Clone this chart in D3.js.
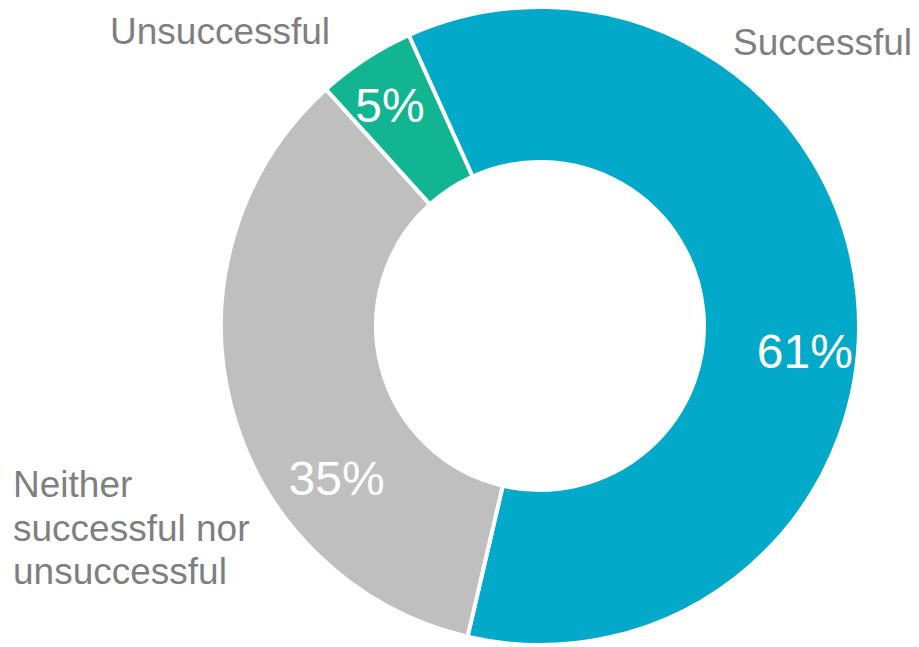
<!DOCTYPE html>
<html>
<head>
<meta charset="utf-8">
<script src="https://cdn.jsdelivr.net/npm/d3@7"></script>
<style>
  html, body { margin: 0; padding: 0; background: #fff; }
  svg { display: block; font-family: "Liberation Sans", Arial, sans-serif; }
</style>
</head>
<body>
<svg id="chart" width="919" height="647"></svg>
<script>
// Survey outcome shares (percent)
const categories = ["Successful", "Neither successful nor unsuccessful", "Unsuccessful"];
const values = [61, 35, 5];
const colors = ["#02A9C8", "#BFBFBF", "#12B591"];

// Category name lines, drawn outside the ring
const nameLines = [["Successful"], ["Neither", "successful nor", "unsuccessful"], ["Unsuccessful"]];

// Layout
const width = 919, height = 647;
const cx = 540, cy = 326;
const outerR = 319, innerR = 164;
const startDeg = -24.3;
// where each value label sits: angle (deg, clockwise from 12 o'clock) and radius
const valueLabelSpots = [{ a: 95.4, r: 266 }, { a: 233.2, r: 254 }, { a: 325.8, r: 267 }];
// category name placement
const nameSpots = [
  { x: 912, y: 55, anchor: "end" },
  { x: 13, y: 497, anchor: "start" },
  { x: 110, y: 44, anchor: "start" }
];
const nameLineGap = 43.5;

const rad = d => d * Math.PI / 180;
const svg = d3.select("#chart");
const g = svg.append("g").attr("transform", `translate(${cx},${cy})`);

const slices = categories.map((c, i) => ({ name: c, value: values[i], color: colors[i], i }));

const pie = d3.pie()
  .value(d => d.value)
  .sort(null)
  .startAngle(rad(startDeg))
  .endAngle(rad(startDeg) + 2 * Math.PI);

const arc = d3.arc().innerRadius(innerR).outerRadius(outerR);

const arcs = pie(slices);

g.selectAll("path.slice")
  .data(arcs)
  .join("path")
  .attr("class", "slice")
  .attr("d", arc)
  .attr("fill", d => d.data.color)
  .attr("stroke", "#fff")
  .attr("stroke-width", 4)
  .attr("stroke-linejoin", "miter");

// Value labels inside the ring
g.selectAll("text.value")
  .data(arcs)
  .join("text")
  .attr("class", "value")
  .attr("x", d => valueLabelSpots[d.index].r * Math.sin(rad(valueLabelSpots[d.index].a)))
  .attr("y", d => -valueLabelSpots[d.index].r * Math.cos(rad(valueLabelSpots[d.index].a)))
  .attr("dy", "0.355em")
  .attr("text-anchor", "middle")
  .attr("fill", "#fff")
  .attr("font-size", 48)
  .text(d => d3.format("d")(d.data.value) + "%");

// Category names
slices.forEach((s, i) => {
  const spot = nameSpots[i];
  const t = svg.append("text")
    .attr("x", spot.x)
    .attr("y", spot.y)
    .attr("text-anchor", spot.anchor)
    .attr("fill", "#7F7F7F")
    .attr("font-size", 37);
  nameLines[i].forEach((line, k) => {
    t.append("tspan")
      .attr("x", spot.x)
      .attr("y", spot.y + k * nameLineGap)
      .text(line);
  });
});
</script>
</body>
</html>
